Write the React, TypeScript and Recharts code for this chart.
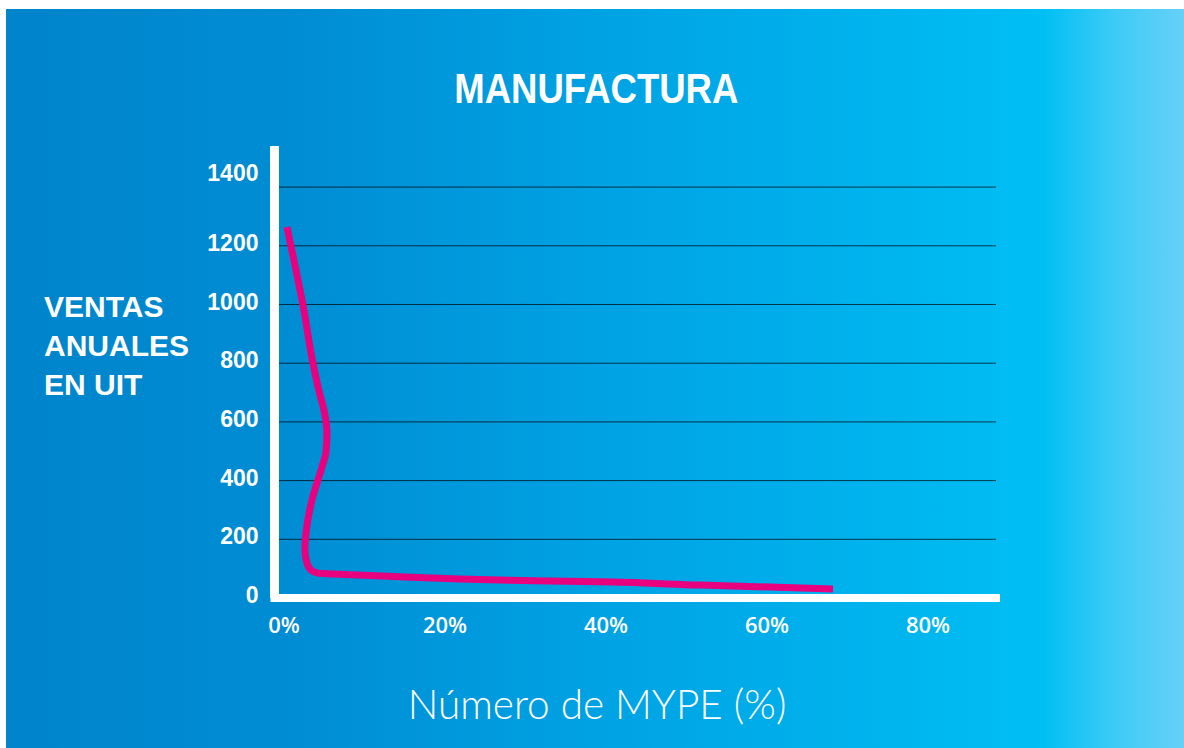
import React from "react";
import { LineChart, Line, XAxis, YAxis, ReferenceLine } from "recharts";

// Share of MYPE (%) vs annual sales in UIT — Manufactura
const mypePercent = [0.37, 1.49, 2.36, 3.6, 4.47, 4.97, 5.34, 5.22, 4.72, 3.48, 2.73, 2.6, 2.86, 3.35, 4.2, 6.1, 14.4, 26.8, 39.3, 51.7, 68.2];
const ventasUIT = [1264, 1117, 998, 800, 692, 640, 562, 497, 446, 334, 221, 164, 119, 95, 85, 82, 72, 61, 55, 44, 31];

const xTicks = [0, 20, 40, 60, 80];
const yTicks = [0, 200, 400, 600, 800, 1000, 1200, 1400];

const title = "MANUFACTURA";
const yTitleLines = ["VENTAS", "ANUALES", "EN UIT"];
const xTitle = "Número de MYPE (%)";

const data = mypePercent.map((x, i) => ({ x, y: ventasUIT[i] }));

const YTick = (props: any) => {
  const { x, y, payload } = props;
  const shift = payload.value === 1400 ? -14 : -3;
  return (
    <text
      x={x}
      y={y + shift}
      dy="0.355em"
      textAnchor="end"
      fill="#ffffff"
      fontSize={23}
      fontWeight={700}
      fontFamily="'Liberation Sans', Arial, sans-serif"
    >
      {payload.value}
    </text>
  );
};

export default function App() {
  return (
    <div style={{ position: "absolute", left: 0, top: 0, width: 1184, height: 748, overflow: "hidden" }}>
      <div
        style={{
          position: "absolute",
          left: 6,
          top: 9,
          width: 1178,
          height: 739,
          background:
            "linear-gradient(to right, #0084CB 0%, #008DD4 25%, #00A2E3 50%, #00B4EE 75%, #00BFF3 88%, #3CCBF6 94%, #66D0F8 100%)",
        }}
      />
      <div
        style={{
          position: "absolute",
          left: 296.5,
          width: 600,
          top: 68,
          textAlign: "center",
          color: "#fff",
          fontFamily: "'Liberation Sans', Arial, sans-serif",
          fontWeight: 700,
          fontSize: 42,
          lineHeight: "42px",
        }}
      >
        <span style={{ display: "inline-block", transform: "scaleX(0.87)" }}>{title}</span>
      </div>
      <div
        style={{
          position: "absolute",
          left: 44,
          top: 287,
          color: "#fff",
          fontFamily: "'Liberation Sans', Arial, sans-serif",
          fontWeight: 700,
          fontSize: 30,
          lineHeight: "39px",
        }}
      >
        {yTitleLines.map((l) => (
          <div key={l}>{l}</div>
        ))}
      </div>
      <div
        style={{
          position: "absolute",
          left: 297,
          width: 600,
          top: 681,
          textAlign: "center",
          color: "#fff",
          fontFamily: "Lato, 'Open Sans', sans-serif",
          fontWeight: 300,
          fontSize: 40.5,
          lineHeight: "46px",
        }}
      >
        {xTitle}
      </div>
      <div style={{ position: "absolute", left: 6, top: 9 }}>
        <LineChart
          width={1178}
          height={739}
          data={data}
          margin={{ top: 137, right: 188, left: 208.5, bottom: 120 }}
        >
          <XAxis
            dataKey="x"
            type="number"
            domain={[-1.18, 88.45]}
            ticks={xTicks}
            allowDataOverflow
            height={30}
            tickLine={false}
            tickMargin={13}
            axisLine={{ stroke: "#ffffff", strokeWidth: 8, strokeLinecap: "square" }}
            tickFormatter={(v: number) => `${v}%`}
            tick={{ fill: "#ffffff", fontSize: 22, fontWeight: 600, fontFamily: "'Open Sans', sans-serif" }}
          />
          <YAxis
            dataKey="y"
            type="number"
            domain={[0, 1540]}
            ticks={yTicks}
            allowDataOverflow
            width={60}
            tickLine={false}
            tickMargin={10}
            axisLine={{ stroke: "#ffffff", strokeWidth: 9 }}
            tick={<YTick />}
          />
          {yTicks
            .filter((v) => v > 0)
            .map((v) => (
              <ReferenceLine key={v} y={v} stroke="#000" strokeOpacity={0.7} strokeWidth={1} ifOverflow="extendDomain" />
            ))}
          <Line
            type="monotoneY"
            dataKey="y"
            stroke="#E8007F"
            strokeWidth={7}
            dot={false}
            activeDot={false}
            isAnimationActive={false}
          />
        </LineChart>
      </div>
    </div>
  );
}
